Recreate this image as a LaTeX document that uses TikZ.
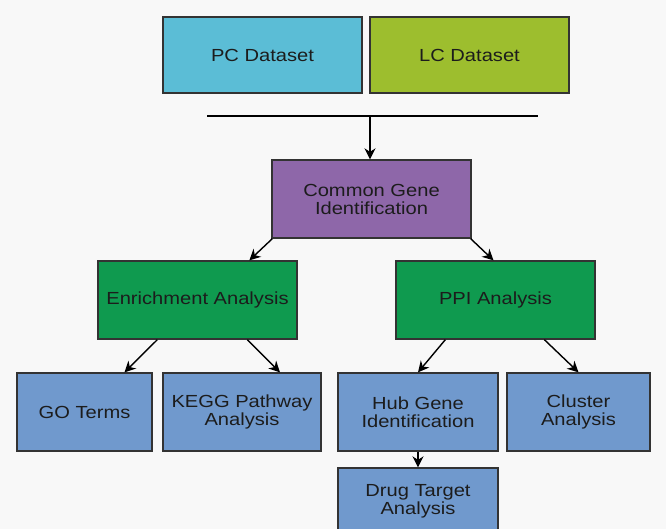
\documentclass[tikz,border=0pt]{standalone}
\usepackage{fontspec}
\setmainfont{Liberation Sans}[FakeStretch=1.15]
\usetikzlibrary{arrows.meta,calc}
\definecolor{bg}{HTML}{F8F8F8}
\definecolor{pcc}{HTML}{5BBDD6}
\definecolor{lcc}{HTML}{9DBE2E}
\definecolor{cgc}{HTML}{8E67A9}
\definecolor{grc}{HTML}{0F9A4F}
\definecolor{blc}{HTML}{7099CD}
\definecolor{edge}{HTML}{333333}
\definecolor{txt}{HTML}{1C1C1C}
\begin{document}
\begin{tikzpicture}[x=1pt,y=-1pt,
  box/.style={draw=edge,line width=1.3pt,align=center,text=txt,inner sep=0pt,
    font=\fontsize{17.5}{18}\selectfont},
  arr/.style={line width=1.4pt,-{Stealth[length=11pt,width=11pt,inset=3.5pt]}}]
\useasboundingbox (0,0) rectangle (666,529);
\clip (0,0) rectangle (666,529);
\fill[bg] (0,0) rectangle (666,529);
\node[box,fill=pcc,minimum width=199pt,minimum height=76pt] (pc) at (262.5,55) {PC Dataset};
\node[box,fill=lcc,minimum width=199pt,minimum height=76pt] (lc) at (469.5,55) {LC Dataset};
\coordinate (l1) at (207,116);
\coordinate (l2) at (538,116);
\coordinate (m) at (370,116);
\draw[line width=1.4pt] (l1) -- (l2);
\node[box,fill=cgc,minimum width=199pt,minimum height=78pt] (cg) at (371.5,199) {Common Gene\\Identification};
\draw[arr] (m) -- (m |- cg.north);
\node[box,fill=grc,minimum width=199pt,minimum height=78pt] (en) at (197.5,300) {Enrichment Analysis};
\node[box,fill=grc,minimum width=199pt,minimum height=78pt] (ppi) at (495.5,300) {PPI Analysis};
\node[box,fill=blc,minimum width=135pt,minimum height=78pt] (go) at (84.5,412) {GO Terms};
\node[box,fill=blc,minimum width=158pt,minimum height=78pt] (kegg) at (242,412) {KEGG Pathway\\Analysis};
\node[box,fill=blc,minimum width=160pt,minimum height=78pt] (hub) at (418,412) {Hub Gene\\Identification};
\node[box,fill=blc,minimum width=143pt,minimum height=78pt] (cl) at (578.5,412) {Cluster\\Analysis};
\node[box,fill=blc,minimum width=160pt,minimum height=66pt] (drug) at (418,501) {Drug Target\\Analysis};
\draw[arr] ([xshift=1pt]cg.south west) -- ([xshift=152pt]en.north west);
\draw[arr] ([xshift=-1pt]cg.south east) -- ([xshift=-2pt]ppi.north);
\draw[arr] ([xshift=60pt]en.south west) -- ([xshift=40pt]go.north);
\draw[arr] ([xshift=150pt]en.south west) -- ([xshift=38pt]kegg.north);
\draw[arr] ([xshift=50pt]ppi.south west) -- (hub.north);
\draw[arr] ([xshift=149pt]ppi.south west) -- (cl.north);
\draw[arr] (hub.south) -- (drug.north);
\end{tikzpicture}
\end{document}
